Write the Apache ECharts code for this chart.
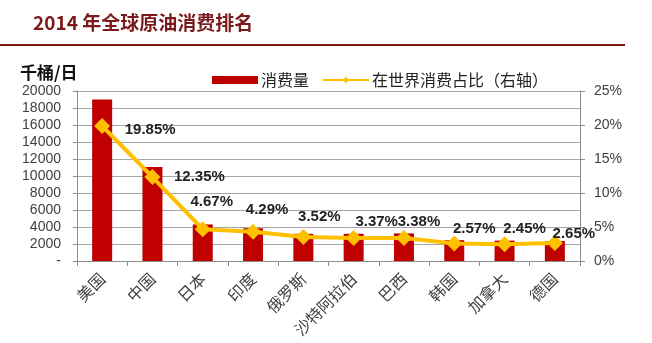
<!DOCTYPE html>
<html><head><meta charset="utf-8">
<script src="https://cdn.jsdelivr.net/npm/echarts@6/dist/echarts.min.js"></script>
<style>html,body{margin:0;padding:0;background:#fff}#c{width:652px;height:343px}</style>
</head><body><div id="c"></div>
<script>
const categories = ['美国','中国','日本','印度','俄罗斯','沙特阿拉伯','巴西','韩国','加拿大','德国'];
const consumption = [19000, 11050, 4300, 3850, 3200, 3200, 3250, 2450, 2400, 2350];
const sharePct = [19.85, 12.35, 4.67, 4.29, 3.52, 3.37, 3.38, 2.57, 2.45, 2.65];
const leftTicks = { min: 0, max: 20000, interval: 2000 };
const rightTicks = { min: 0, max: 25, interval: 5 };
// label placement styling (px offsets from marker center)
const labelOffsets = [[48,4],[47,0],[9,-27],[14,-22],[16,-20],[23,-16],[15,-16],[20,-15],[20,-15],[19,-9]];

const chart = echarts.init(document.getElementById('c'));
const font = '"Liberation Sans", Arial, "Noto Sans CJK SC", sans-serif';
chart.setOption({
  animation: false,
  textStyle: { fontFamily: font },
  graphic: [
    { type: 'text', left: 33, top: 13, style: { text: '2014 年全球原油消费排名', fill: '#7a1a1a', font: 'bold 19px "Noto Sans CJK SC", sans-serif' } },
    { type: 'line', shape: { x1: 0, y1: 45, x2: 625, y2: 45 }, style: { stroke: '#7a1a1a', lineWidth: 2 } },
    { type: 'text', left: 20, top: 64, style: { text: '千桶/日', fill: '#111', font: 'bold 17px "Noto Sans CJK SC", sans-serif' } }
  ],
  legend: {
    left: 207, top: 67, itemWidth: 46, itemHeight: 8, itemGap: 13,
    textStyle: { fontSize: 16, color: '#222', fontFamily: '"Noto Sans CJK SC", sans-serif', padding: [0,0,0,-2] },
    data: [{ name: '消费量', icon: 'rect' }, { name: '在世界消费占比（右轴）' }]
  },
  grid: { left: 77, right: 72, top: 91, bottom: 82 },
  xAxis: {
    type: 'category', data: categories,
    axisLine: { lineStyle: { color: '#8c8c8c' } },
    axisTick: { show: true, length: 5, lineStyle: { color: '#8c8c8c' } },
    axisLabel: { rotate: 45, fontSize: 16, color: '#404040', margin: 15, fontFamily: '"Noto Sans CJK SC", sans-serif' }
  },
  yAxis: [
    {
      type: 'value', min: leftTicks.min, max: leftTicks.max, interval: leftTicks.interval,
      axisLine: { show: true, lineStyle: { color: '#8c8c8c' } },
      axisTick: { show: true, length: 4, lineStyle: { color: '#8c8c8c' } },
      splitLine: { lineStyle: { color: '#a6a6a6' } },
      axisLabel: { fontSize: 14, color: '#404040', margin: 16, formatter: v => v === 0 ? '-' : String(v) }
    },
    {
      type: 'value', min: rightTicks.min, max: rightTicks.max, interval: rightTicks.interval,
      axisLine: { show: true, lineStyle: { color: '#8c8c8c' } },
      axisTick: { show: true, length: 5, lineStyle: { color: '#8c8c8c' } },
      splitLine: { show: false },
      axisLabel: { fontSize: 14, color: '#404040', margin: 14, formatter: '{value}%' }
    }
  ],
  series: [
    { name: '消费量', type: 'bar', data: consumption, barWidth: 20, itemStyle: { color: '#c00000' } },
    {
      name: '在世界消费占比（右轴）', type: 'line', yAxisIndex: 1,
      data: sharePct.map((v, i) => ({ value: v, label: { offset: labelOffsets[i] } })),
      symbol: 'diamond', symbolSize: 16,
      lineStyle: { color: '#ffc000', width: 4 },
      itemStyle: { color: '#ffc000' },
      label: { show: true, position: 'inside', formatter: p => p.value.toFixed(2) + '%', fontSize: 15, fontWeight: 'bold', color: '#222' }
    }
  ]
});
</script></body></html>
